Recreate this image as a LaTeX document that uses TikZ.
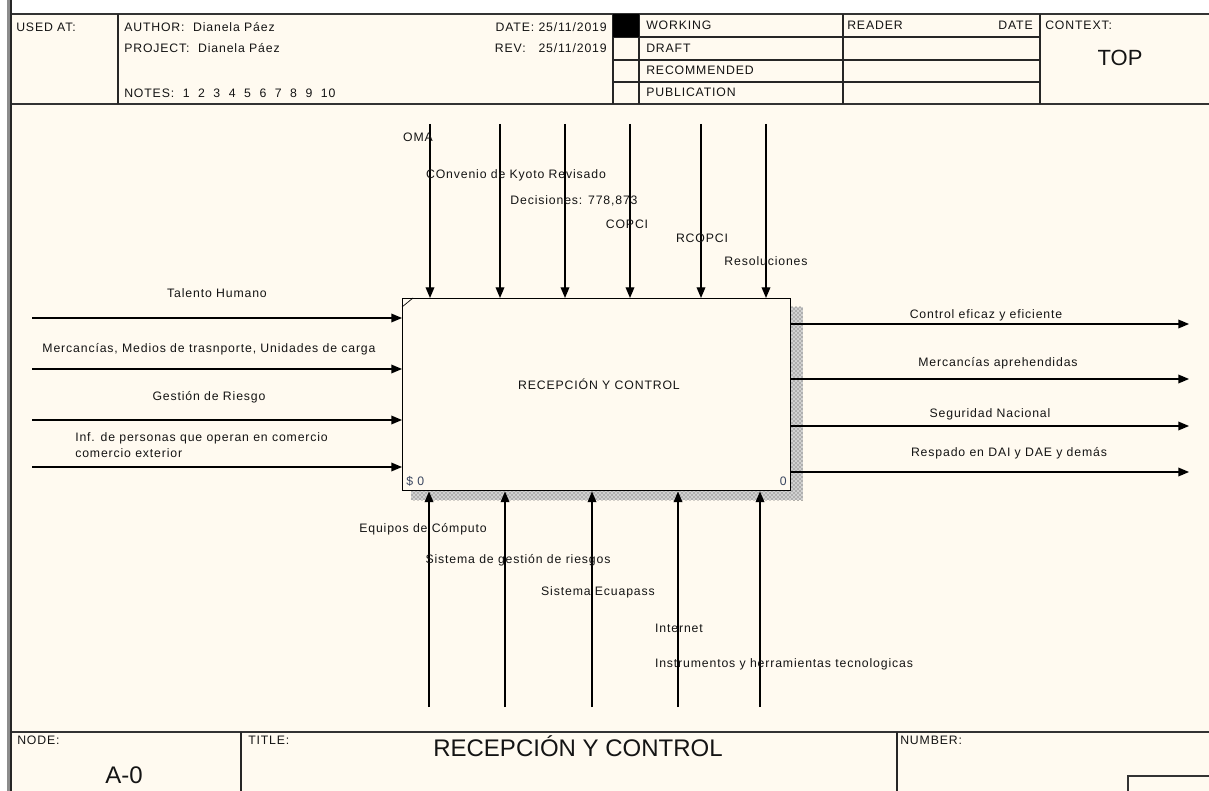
\documentclass[tikz,border=0pt]{standalone}
\usepackage{fontspec}
\setmainfont[LetterSpace=7]{Liberation Sans}
\newfontfamily\bigfont{Liberation Sans}
\usepackage{xcolor}
\definecolor{SheetCream}{HTML}{FFFAF0}
\definecolor{LabelInk}{HTML}{141414}
\definecolor{CountInk}{HTML}{3A4660}
\usetikzlibrary{positioning,calc,arrows.meta,patterns}

\begin{document}
\begin{tikzpicture}[x=0.75pt, y=-0.75pt,
  lbl/.style={font=\fontsize{9.2}{12}\selectfont, text=LabelInk, inner sep=0pt},
  flow/.style={line width=1pt, -{Triangle[length=8pt,width=6.5pt]}},
  rule/.style={line width=0.9pt, black!85},
  thickrule/.style={line width=1.8pt, black!80},
  hatchstrip/.style={fill=black!18, postaction={pattern=crosshatch dots, pattern color=black!75}}]
  \useasboundingbox (0,0) rectangle (1209,791);
  %% sheet
  \fill[white] (0,0) rectangle (1209,791);
  \fill[SheetCream] (12,14) rectangle (1209,791);
  %% left border
  \draw[line width=3pt, black!45] (9,0) -- (9,791);
  \draw[line width=1.3pt, black!85] (11,0) -- (11,791);
  %% header frame
  \draw[thickrule] (12,14) -- (1209,14);
  \draw[thickrule] (12,104) -- (1209,104);
  \foreach \xv in {118,613,639,843,1040}
    \draw[rule] (\xv,14) -- (\xv,104);
  \foreach \yv in {37,60,82}
    \draw[rule] (613,\yv) -- (1040,\yv);
  \fill[black] (613,14) rectangle (639,37);
  %% header text
  \node[lbl, anchor=west] (usedat) at (16,27) {USED AT:};
  \node[lbl, anchor=west] (author) at (124,27) {AUTHOR:\ \ Dianela Páez};
  \node[lbl, anchor=west] (project) at (124,48) {PROJECT:\ \ Dianela Páez};
  \node[lbl, anchor=west] (notes) at (124,93) {NOTES:\ \ 1\ \ 2\ \ 3\ \ 4\ \ 5\ \ 6\ \ 7\ \ 8\ \ 9\ \ 10};
  \node[lbl, anchor=east] (date) at (607,27) {DATE: 25/11/2019};
  \node[lbl, anchor=east] (rev) at (607,48) {REV:\ \ \ 25/11/2019};
  \node[lbl, anchor=west] (working) at (646,25) {WORKING};
  \node[lbl, anchor=west] (draft) at (646,48) {DRAFT};
  \node[lbl, anchor=west] (recommended) at (646,70) {RECOMMENDED};
  \node[lbl, anchor=west] (publication) at (646,92) {PUBLICATION};
  \node[lbl, anchor=west] (reader) at (847,25) {READER};
  \node[lbl, anchor=east] (readerdate) at (1033,25) {DATE};
  \node[lbl, anchor=west] (context) at (1045,25) {CONTEXT:};
  \node[lbl, font=\bigfont\fontsize{16.5}{18}\selectfont] (top) at (1120,58) {TOP};
  %% activity box
  \fill[hatchstrip] (791,307) rectangle (803,500);
  \fill[hatchstrip] (411,490) rectangle (803,500);
  \node[draw, line width=1.1pt, fill=SheetCream, anchor=north west, inner sep=0pt,
    minimum width=291pt, minimum height=144pt] (act) at (402,298) {};
  \draw[line width=0.5pt] (act.north west) ++(0,9) -- ++(11,-9);
  \node[lbl] (actlabel) at (599,384) {RECEPCIÓN Y CONTROL};
  \node[lbl, anchor=west, text=CountInk] (cost) at (406,481) {\$ 0};
  \node[lbl, anchor=east, text=CountInk] (actnum) at (787,481) {0};
  %% controls
  \foreach \nm/\xv in {c1/430,c2/500,c3/565,c4/630,c5/701,c6/766} {
    \coordinate (\nm) at (\xv,124);
    \draw[flow] (\nm) -- (\nm |- act.north);
  }
  \node[lbl] (oma) at (418,137) {OMA};
  \node[lbl] (kyoto) at (516,175) {COnvenio de Kyoto Revisado};
  \node[lbl] (decisiones) at (574,201) {Decisiones: 778,873};
  \node[lbl] (copci) at (627,224) {COPCI};
  \node[lbl] (rcopci) at (702,238) {RCOPCI};
  \node[lbl] (resoluciones) at (766,261) {Resoluciones};
  %% inputs
  \foreach \nm/\yv in {i1/318,i2/369,i3/420,i4/467} {
    \coordinate (\nm) at (32,\yv);
    \draw[flow] (\nm) -- (\nm -| act.west);
  }
  \node[lbl] (talento) at (217,293) {Talento Humano};
  \node[lbl] (mercancias) at (209,349) {Mercancías, Medios de trasnporte, Unidades de carga};
  \node[lbl] (riesgo) at (209,397) {Gestión de Riesgo};
  \node[lbl, anchor=west, align=left] (personas) at (75,445)
    {Inf. de personas que operan en comercio\\comercio exterior};
  %% outputs
  \foreach \nm/\yv in {o1/324,o2/379,o3/426,o4/472} {
    \coordinate (\nm) at (1189,\yv);
    \draw[flow] (\nm -| act.east) -- (\nm);
  }
  \node[lbl] (control) at (986,315) {Control eficaz y eficiente};
  \node[lbl] (aprehendidas) at (998,363) {Mercancías aprehendidas};
  \node[lbl] (seguridad) at (990,414) {Seguridad Nacional};
  \node[lbl] (respaldo) at (1009,453) {Respado en DAI y DAE y demás};
  %% mechanisms
  \foreach \nm/\xv in {m1/429,m2/505,m3/592,m4/678,m5/760} {
    \coordinate (\nm) at (\xv,707);
    \draw[flow] (\nm) -- (\nm |- act.south);
  }
  \node[lbl] (computo) at (423,529) {Equipos de Cómputo};
  \node[lbl] (sistema) at (518,560) {Sistema de gestión de riesgos};
  \node[lbl] (ecuapass) at (598,592) {Sistema Ecuapass};
  \node[lbl] (internet) at (679,628) {Internet};
  \node[lbl] (instrumentos) at (784,664) {Instrumentos y herramientas tecnologicas};
  %% title block
  \draw[thickrule] (12,732) -- (1209,732);
  \draw[rule] (241,732) -- (241,791);
  \draw[rule] (897,732) -- (897,791);
  \draw[thickrule] (1128,791) -- (1128,776) -- (1209,776);
  \node[lbl, anchor=west] (nodelbl) at (17,740) {NODE:};
  \node[lbl, anchor=west] (titlelbl) at (248,740) {TITLE:};
  \node[lbl, anchor=west] (numberlbl) at (900,740) {NUMBER:};
  \node[lbl, font=\bigfont\fontsize{18}{20}\selectfont] (nodeid) at (124,775) {A-0};
  \node[lbl, font=\bigfont\fontsize{18}{20}\selectfont] (sheettitle) at (578,746) {RECEPCIÓN Y CONTROL};
\end{tikzpicture}
\end{document}
